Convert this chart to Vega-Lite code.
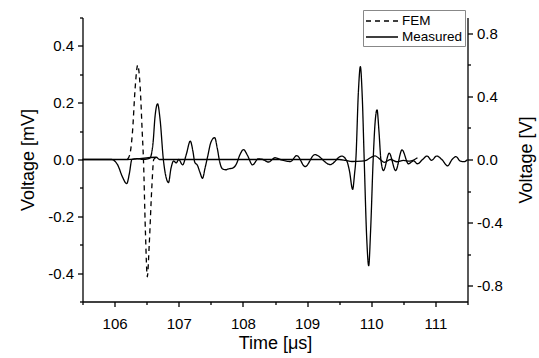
{
  "$schema": "https://vega.github.io/schema/vega-lite/v6.json",
  "width": 385,
  "height": 284,
  "autosize": {"type": "none"},
  "padding": {"left": 82.5, "top": 17.5, "right": 71.5, "bottom": 56.5},
  "background": "white",
  "config": {
    "view": {"stroke": null},
    "font": "Liberation Sans",
    "axis": {
      "grid": false,
      "domainColor": "black",
      "domainWidth": 1.3,
      "tickColor": "black",
      "tickWidth": 1.3,
      "labelColor": "black",
      "labelFont": "Liberation Sans",
      "labelFontSize": 15,
      "labelFlush": false,
      "labelOverlap": false,
      "titleColor": "black",
      "titleFont": "Liberation Sans",
      "titleFontSize": 18,
      "titleFontWeight": "normal"
    }
  },
  "datasets": {
    "fem": [
      {"t": 105.5, "v": 0, "series": "FEM"},
      {"t": 106.2, "v": 0, "series": "FEM"},
      {"t": 106.24, "v": 0.02, "series": "FEM"},
      {"t": 106.28, "v": 0.1, "series": "FEM"},
      {"t": 106.32, "v": 0.25, "series": "FEM"},
      {"t": 106.36, "v": 0.332, "series": "FEM"},
      {"t": 106.4, "v": 0.25, "series": "FEM"},
      {"t": 106.43, "v": 0.1, "series": "FEM"},
      {"t": 106.45, "v": 0.0, "series": "FEM"},
      {"t": 106.48, "v": -0.25, "series": "FEM"},
      {"t": 106.51, "v": -0.413, "series": "FEM"},
      {"t": 106.54, "v": -0.3, "series": "FEM"},
      {"t": 106.58, "v": -0.1, "series": "FEM"},
      {"t": 106.61, "v": 0, "series": "FEM"},
      {"t": 106.65, "v": 0.008, "series": "FEM"},
      {"t": 106.7, "v": 0, "series": "FEM"},
      {"t": 109.5, "v": 0, "series": "FEM"},
      {"t": 109.6, "v": -0.003, "series": "FEM"},
      {"t": 109.7, "v": -0.007, "series": "FEM"},
      {"t": 109.85, "v": -0.006, "series": "FEM"},
      {"t": 109.93, "v": -0.002, "series": "FEM"},
      {"t": 110.0, "v": 0.008, "series": "FEM"},
      {"t": 110.06, "v": 0.013, "series": "FEM"},
      {"t": 110.12, "v": 0.004, "series": "FEM"},
      {"t": 110.2, "v": -0.01, "series": "FEM"},
      {"t": 110.3, "v": 0.0, "series": "FEM"},
      {"t": 110.4, "v": -0.008, "series": "FEM"},
      {"t": 110.5, "v": -0.003, "series": "FEM"},
      {"t": 110.6, "v": -0.006, "series": "FEM"},
      {"t": 110.72, "v": 0.006, "series": "FEM"}
    ],
    "measured": [
      {"t": 105.5, "v": 0, "series": "Measured"},
      {"t": 105.95, "v": 0, "series": "Measured"},
      {"t": 106.05, "v": -0.036, "series": "Measured"},
      {"t": 106.12, "v": -0.108, "series": "Measured"},
      {"t": 106.19, "v": -0.153, "series": "Measured"},
      {"t": 106.23, "v": -0.09, "series": "Measured"},
      {"t": 106.27, "v": 0, "series": "Measured"},
      {"t": 106.35, "v": 0.005, "series": "Measured"},
      {"t": 106.45, "v": 0, "series": "Measured"},
      {"t": 106.55, "v": 0.009, "series": "Measured"},
      {"t": 106.6, "v": 0.108, "series": "Measured"},
      {"t": 106.63, "v": 0.27, "series": "Measured"},
      {"t": 106.67, "v": 0.353, "series": "Measured"},
      {"t": 106.71, "v": 0.25, "series": "Measured"},
      {"t": 106.76, "v": 0, "series": "Measured"},
      {"t": 106.8, "v": -0.108, "series": "Measured"},
      {"t": 106.84, "v": -0.146, "series": "Measured"},
      {"t": 106.88, "v": -0.054, "series": "Measured"},
      {"t": 106.92, "v": -0.009, "series": "Measured"},
      {"t": 106.96, "v": -0.022, "series": "Measured"},
      {"t": 107.0, "v": 0, "series": "Measured"},
      {"t": 107.06, "v": -0.034, "series": "Measured"},
      {"t": 107.12, "v": 0.036, "series": "Measured"},
      {"t": 107.18, "v": 0.117, "series": "Measured"},
      {"t": 107.22, "v": 0.054, "series": "Measured"},
      {"t": 107.25, "v": -0.018, "series": "Measured"},
      {"t": 107.29, "v": -0.036, "series": "Measured"},
      {"t": 107.33, "v": -0.081, "series": "Measured"},
      {"t": 107.37, "v": -0.119, "series": "Measured"},
      {"t": 107.41, "v": -0.054, "series": "Measured"},
      {"t": 107.45, "v": 0.018, "series": "Measured"},
      {"t": 107.5, "v": 0.108, "series": "Measured"},
      {"t": 107.56, "v": 0.139, "series": "Measured"},
      {"t": 107.6, "v": 0.072, "series": "Measured"},
      {"t": 107.64, "v": -0.018, "series": "Measured"},
      {"t": 107.68, "v": -0.059, "series": "Measured"},
      {"t": 107.73, "v": -0.065, "series": "Measured"},
      {"t": 107.78, "v": -0.059, "series": "Measured"},
      {"t": 107.84, "v": -0.054, "series": "Measured"},
      {"t": 107.9, "v": -0.027, "series": "Measured"},
      {"t": 107.95, "v": 0.027, "series": "Measured"},
      {"t": 108.01, "v": 0.063, "series": "Measured"},
      {"t": 108.07, "v": 0.027, "series": "Measured"},
      {"t": 108.15, "v": -0.034, "series": "Measured"},
      {"t": 108.24, "v": 0.004, "series": "Measured"},
      {"t": 108.31, "v": 0.0, "series": "Measured"},
      {"t": 108.4, "v": -0.016, "series": "Measured"},
      {"t": 108.5, "v": 0.011, "series": "Measured"},
      {"t": 108.61, "v": -0.004, "series": "Measured"},
      {"t": 108.74, "v": -0.013, "series": "Measured"},
      {"t": 108.84, "v": 0.025, "series": "Measured"},
      {"t": 108.97, "v": -0.045, "series": "Measured"},
      {"t": 109.12, "v": 0.031, "series": "Measured"},
      {"t": 109.36, "v": -0.032, "series": "Measured"},
      {"t": 109.54, "v": 0.022, "series": "Measured"},
      {"t": 109.62, "v": -0.01, "series": "Measured"},
      {"t": 109.66, "v": -0.072, "series": "Measured"},
      {"t": 109.71, "v": -0.189, "series": "Measured"},
      {"t": 109.74, "v": -0.09, "series": "Measured"},
      {"t": 109.76, "v": 0.0, "series": "Measured"},
      {"t": 109.8, "v": 0.432, "series": "Measured"},
      {"t": 109.83, "v": 0.589, "series": "Measured"},
      {"t": 109.86, "v": 0.396, "series": "Measured"},
      {"t": 109.89, "v": 0.0, "series": "Measured"},
      {"t": 109.93, "v": -0.504, "series": "Measured"},
      {"t": 109.96, "v": -0.673, "series": "Measured"},
      {"t": 109.99, "v": -0.45, "series": "Measured"},
      {"t": 110.03, "v": 0.0, "series": "Measured"},
      {"t": 110.06, "v": 0.234, "series": "Measured"},
      {"t": 110.09, "v": 0.315, "series": "Measured"},
      {"t": 110.12, "v": 0.18, "series": "Measured"},
      {"t": 110.15, "v": 0.0, "series": "Measured"},
      {"t": 110.19, "v": -0.07, "series": "Measured"},
      {"t": 110.28, "v": 0.04, "series": "Measured"},
      {"t": 110.38, "v": -0.07, "series": "Measured"},
      {"t": 110.48, "v": 0.061, "series": "Measured"},
      {"t": 110.58, "v": -0.027, "series": "Measured"},
      {"t": 110.66, "v": -0.009, "series": "Measured"},
      {"t": 110.72, "v": -0.027, "series": "Measured"},
      {"t": 110.8, "v": 0.0, "series": "Measured"},
      {"t": 110.87, "v": 0.022, "series": "Measured"},
      {"t": 110.94, "v": -0.005, "series": "Measured"},
      {"t": 111.02, "v": 0.022, "series": "Measured"},
      {"t": 111.1, "v": 0.0, "series": "Measured"},
      {"t": 111.19, "v": -0.04, "series": "Measured"},
      {"t": 111.26, "v": 0.0, "series": "Measured"},
      {"t": 111.32, "v": 0.018, "series": "Measured"},
      {"t": 111.39, "v": -0.011, "series": "Measured"},
      {"t": 111.45, "v": -0.014, "series": "Measured"},
      {"t": 111.5, "v": 0.0, "series": "Measured"}
    ]
  },
  "layer": [
    {
      "data": {"name": "fem"},
      "encoding": {
        "x": {
          "field": "t", "type": "quantitative",
          "scale": {"domain": [105.5, 111.5], "nice": false, "zero": false},
          "axis": {
            "orient": "bottom",
            "title": "Time [μs]",
            "tickCount": 12,
            "labelExpr": "datum.value % 1 == 0 ? format(datum.value, 'd') : ''",
            "ticks": true,
            "tickSize": {"condition": {"test": "datum.value % 1 == 0", "value": 5}, "value": 3},
            "labelPadding": 10,
            "titlePadding": 3
          }
        },
        "y": {
          "field": "v", "type": "quantitative",
          "scale": {"domain": [-0.5, 0.5], "nice": false, "zero": false},
          "axis": {
            "orient": "left",
            "title": "Voltage [mV]",
            "values": [-0.5, -0.4, -0.3, -0.2, -0.1, 0, 0.1, 0.2, 0.3, 0.4, 0.5],
            "labelExpr": "abs(round(datum.value*10)) % 2 == 0 ? replace(format(datum.value, '.1f'), '−', '-') : ''",
            "tickSize": {"condition": {"test": "abs(round(datum.value*10)) % 2 == 0", "value": 5}, "value": 3},
            "labelPadding": 4,
            "titlePadding": 10
          }
        }
      },
      "layer": [
        {
          "transform": [{"filter": "datum.t <= 106.22 || datum.t >= 106.62"}],
          "mark": {"type": "line", "interpolate": "monotone", "strokeWidth": 1.3, "color": "black"}
        },
        {
          "transform": [{"filter": "datum.t >= 106.2 && datum.t <= 106.65"}],
          "mark": {"type": "line", "interpolate": "monotone", "strokeWidth": 1.3, "color": "black"},
          "encoding": {
            "strokeDash": {
              "field": "series", "type": "nominal",
              "scale": {"domain": ["FEM", "Measured"], "range": [[5, 4], [1, 0]]},
              "legend": {
                "orient": "none",
                "legendX": 280.5,
                "legendY": -7.5,
                "title": null,
                "symbolType": "M-3,0H1",
                "symbolSize": 256,
                "symbolOffset": 16,
                "symbolStrokeWidth": 1.3,
                "symbolStrokeColor": "black",
                "labelFont": "Liberation Sans",
                "labelFontSize": 13.5,
                "labelColor": "black",
                "labelOffset": 3,
                "strokeColor": "#888",
                "fillColor": "white",
                "padding": 2,
                "rowPadding": 0
              }
            }
          }
        }
      ]
    },
    {
      "data": {"name": "measured"},
      "mark": {"type": "line", "interpolate": "monotone", "strokeWidth": 1.3, "color": "black"},
      "encoding": {
        "x": {"field": "t", "type": "quantitative"},
        "y": {
          "field": "v", "type": "quantitative",
          "scale": {"domain": [-0.9, 0.9], "nice": false, "zero": false},
          "axis": {
            "orient": "right",
            "title": "Voltage [V]",
            "values": [-0.8, -0.6, -0.4, -0.2, 0, 0.2, 0.4, 0.6, 0.8],
            "labelExpr": "abs(round(datum.value*5)) % 2 == 0 ? replace(format(datum.value, '.1f'), '−', '-') : ''",
            "tickSize": {"condition": {"test": "abs(round(datum.value*5)) % 2 == 0", "value": 5}, "value": 3},
            "labelPadding": 4,
            "titlePadding": 15,
            "titleAngle": 270,
            "titleBaseline": "top"
          }
        },
        "strokeDash": {"field": "series", "type": "nominal"}
      }
    }
  ],
  "resolve": {"scale": {"y": "independent"}}
}
